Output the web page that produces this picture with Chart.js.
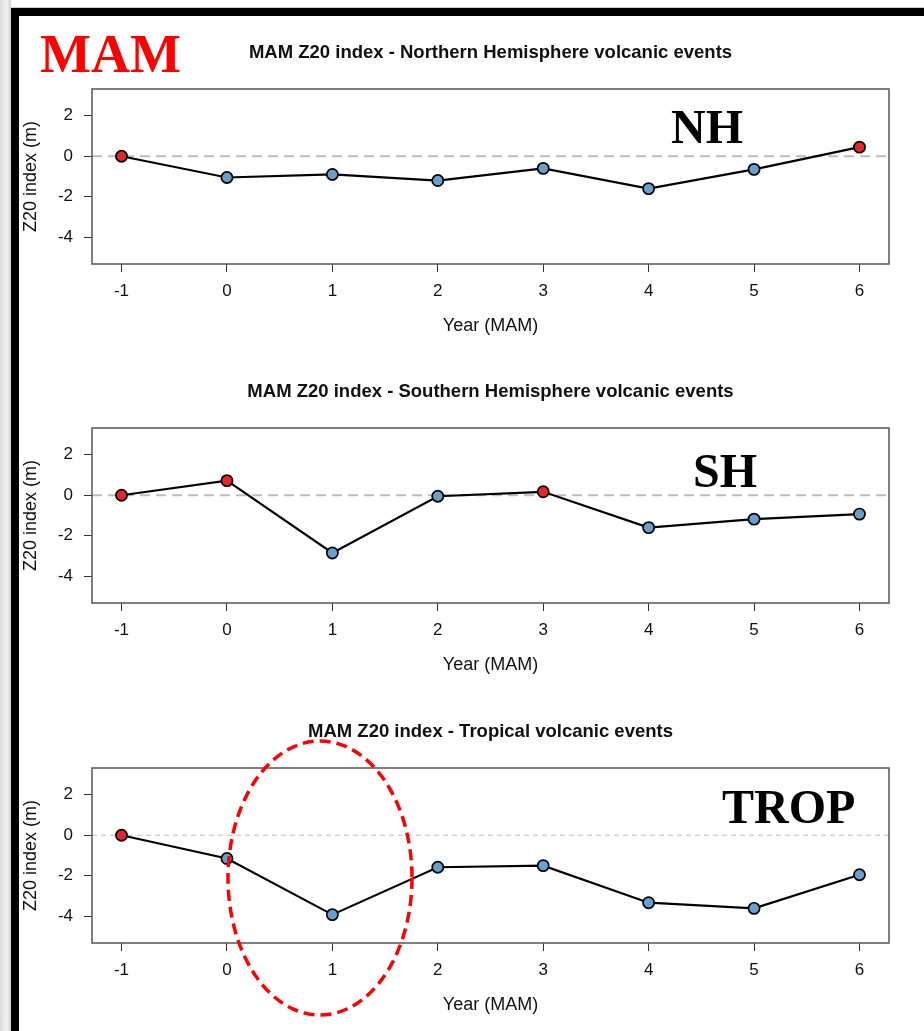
<!DOCTYPE html>
<html>
<head>
<meta charset="utf-8">
<script src="https://cdn.jsdelivr.net/npm/chart.js@4.4.1/dist/chart.umd.min.js"></script>
<style>
  body { margin: 0; width: 924px; height: 1031px; background: #fff; position: relative; overflow: hidden; }
  .shadow { position: absolute; left: 0; top: 0; width: 11px; height: 1031px; background: linear-gradient(to right, #dcdcdc, #f2f2f2 60%, #d0d0d0); }
  .frame-left { position: absolute; left: 11px; top: 8px; width: 8px; height: 1023px; background: #000; }
  .frame-top { position: absolute; left: 11px; top: 8px; width: 913px; height: 8px; background: #000; }
  .topline { position: absolute; left: 11px; top: 7px; width: 913px; height: 1px; background: #cfcfcf; }
  .panel { position: absolute; left: 0; width: 924px; height: 320px; }
  .tag { position: absolute; font-family: "Liberation Serif", "Times New Roman", serif; font-weight: bold; line-height: 1; white-space: nowrap; color: #000; }
  svg { position: absolute; left: 0; top: 0; pointer-events: none; }
</style>
</head>
<body>
<div class="shadow"></div>
<div class="topline"></div>
<div class="frame-top"></div>
<div class="frame-left"></div>

<div class="panel" style="top:19px"><canvas id="nh-chart" width="924" height="320"></canvas></div>
<div class="panel" style="top:358px"><canvas id="sh-chart" width="924" height="320"></canvas></div>
<div class="panel" style="top:698px"><canvas id="trop-chart" width="924" height="320"></canvas></div>

<div class="tag" style="left:40px; top:27px; font-size:54px; color:#f00;">MAM</div>
<div class="tag" style="left:671px; top:103px; font-size:48px;">NH</div>
<div class="tag" style="left:693px; top:447px; font-size:48px;">SH</div>
<div class="tag" style="left:722px; top:783px; font-size:48px;">TROP</div>

<svg width="924" height="1031">
  <ellipse cx="320" cy="878" rx="92" ry="137" fill="none" stroke="#f00" stroke-width="3.5" stroke-dasharray="11 6"/>
</svg>

<script>
// anos relativos ao evento vulcânico
const years = [-1, 0, 1, 2, 3, 4, 5, 6];
const yTicks = [2, 0, -2, -4];

const nhZ20 = [0, -1.05, -0.9, -1.2, -0.6, -1.6, -0.65, 0.45];
const shZ20 = [0, 0.72, -2.85, -0.05, 0.17, -1.6, -1.18, -0.93];
const tropZ20 = [0, -1.15, -3.92, -1.58, -1.5, -3.33, -3.61, -1.95];

// pontos vermelhos = significativos
const nhSig = [true, false, false, false, false, false, false, true];
const shSig = [true, true, false, false, true, false, false, false];
const tropSig = [true, false, false, false, false, false, false, false];

const blue = '#6a9fcb';
const red = '#e8262a';
const textColor = '#111';
const sans = '"Liberation Sans", Arial, sans-serif';

// caixa do gráfico, linha do zero e título
const panelFrame = {
    id: 'panelFrame',
    beforeDatasetsDraw(chart, args, opts) {
        const { ctx, chartArea: a, scales: { y } } = chart;
        const y0 = y.getPixelForValue(0);
        ctx.save();
        ctx.strokeStyle = '#bdbdbd';
        ctx.lineWidth = opts.zeroWidth;
        ctx.setLineDash(opts.zeroDash);
        ctx.beginPath();
        ctx.moveTo(a.left, y0);
        ctx.lineTo(a.right, y0);
        ctx.stroke();
        ctx.setLineDash([]);
        ctx.strokeStyle = '#555';
        ctx.lineWidth = 1.5;
        ctx.strokeRect(a.left, a.top, a.right - a.left, a.bottom - a.top);
        ctx.fillStyle = textColor;
        ctx.font = 'bold 18.5px ' + sans;
        ctx.textAlign = 'center';
        ctx.textBaseline = 'middle';
        ctx.fillText(opts.title, (a.left + a.right) / 2, a.top - 36);
        ctx.restore();
    }
};

function makePanel(id, title, values, sig, zeroWidth, zeroDash) {
    return new Chart(document.getElementById(id), {
        type: 'line',
        data: {
            datasets: [{
                data: years.map((x, i) => ({ x: x, y: values[i] })),
                borderColor: '#000',
                borderWidth: 2.2,
                pointRadius: 5.6,
                pointBorderWidth: 1.7,
                pointBorderColor: '#000',
                pointBackgroundColor: sig.map(s => s ? red : blue),
                tension: 0
            }]
        },
        options: {
            responsive: false,
            animation: false,
            events: [],
            layout: { padding: { top: 70, right: 35, left: 0, bottom: 0 } },
            plugins: {
                legend: { display: false },
                tooltip: { enabled: false },
                panelFrame: { title: title, zeroWidth: zeroWidth, zeroDash: zeroDash }
            },
            scales: {
                x: {
                    type: 'linear',
                    min: -1.28,
                    max: 6.28,
                    afterBuildTicks: s => { s.ticks = years.map(v => ({ value: v })); },
                    afterFit: s => { s.height = 75; },
                    grid: { drawOnChartArea: false, drawTicks: true, tickLength: 8, color: '#333' },
                    border: { display: false },
                    ticks: { padding: 9, color: textColor, font: { family: sans, size: 17 }, autoSkip: false, maxRotation: 0 },
                    title: { display: true, text: 'Year (MAM)', color: textColor, font: { family: sans, size: 18 }, padding: { top: 0, bottom: 2 } }
                },
                y: {
                    min: -5.32,
                    max: 3.32,
                    afterBuildTicks: s => { s.ticks = yTicks.map(v => ({ value: v })); },
                    afterFit: s => { s.width = 92; },
                    grid: { drawOnChartArea: false, drawTicks: true, tickLength: 8, color: '#333' },
                    border: { display: false },
                    ticks: { padding: 11, color: textColor, font: { family: sans, size: 17 } },
                    title: { display: true, text: 'Z20 index (m)', color: textColor, font: { family: sans, size: 18 }, padding: { top: 20, bottom: 0 } }
                }
            }
        },
        plugins: [panelFrame]
    });
}

makePanel('nh-chart', 'MAM Z20 index - Northern Hemisphere volcanic events', nhZ20, nhSig, 2, [10, 6]);
makePanel('sh-chart', 'MAM Z20 index - Southern Hemisphere volcanic events', shZ20, shSig, 2, [10, 6]);
makePanel('trop-chart', 'MAM Z20 index - Tropical volcanic events', tropZ20, tropSig, 1, [5, 4]);
</script>
</body>
</html>
